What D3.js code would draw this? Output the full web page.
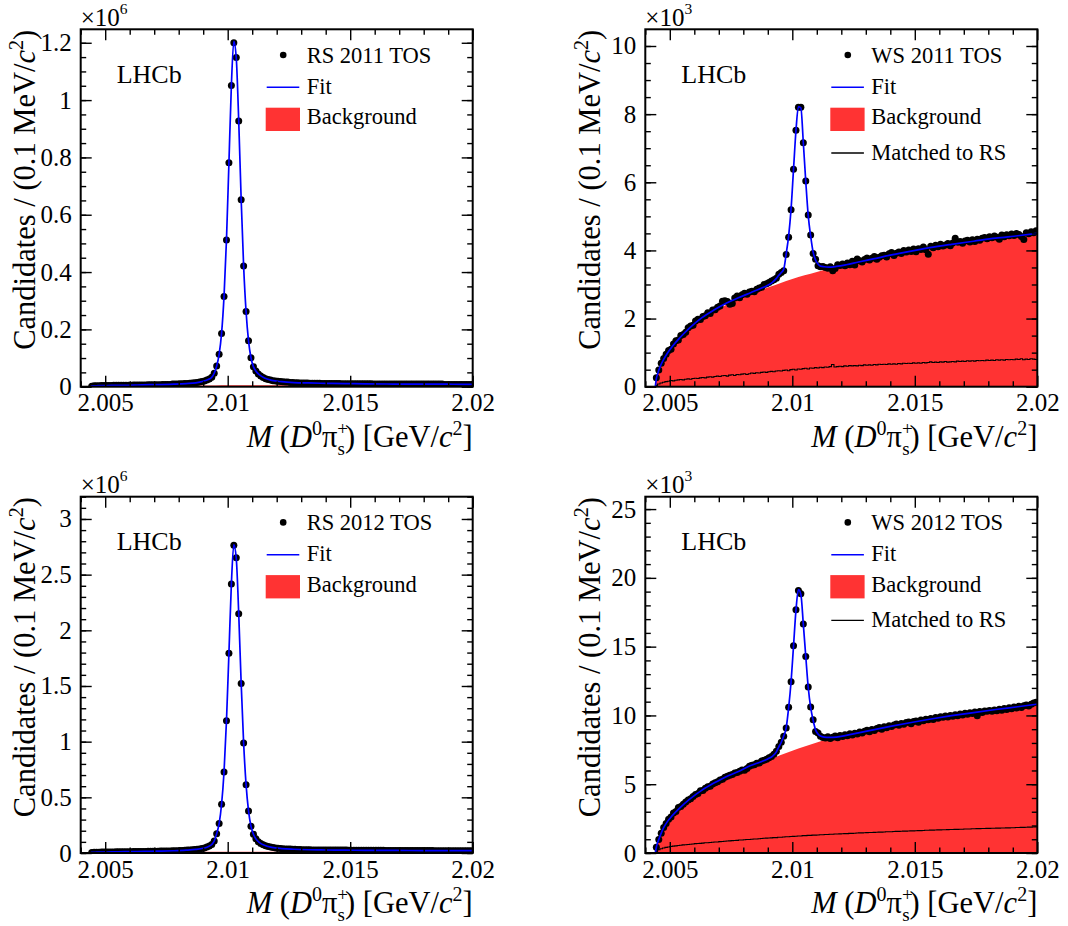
<!DOCTYPE html>
<html><head><meta charset="utf-8">
<script src="https://cdn.jsdelivr.net/npm/d3@7"></script>
<style>
body{margin:0;background:#fff}
svg{display:block}
text{font-family:"Liberation Serif","Times New Roman",serif;fill:#000}
</style>
</head><body>
<svg id="c" width="1068" height="926"></svg>
<script>
// ---- histogram binning (0.1 MeV bins) ----
const binLow = 2.0044, binWidth = 0.0001;
const xDomain = [2.004, 2.02];
const xMajorTicks = [2.005, 2.01, 2.015, 2.02];
const xTickLabels = ["2.005", "2.01", "2.015", "2.02"];

// ---- data points (candidates per bin) ----
const rs2011Data = [
0.002,0.003,0.003,0.003,0.004,0.004,0.004,0.004,0.004,0.005,
0.005,0.005,0.005,0.005,0.005,0.005,0.005,0.006,0.006,0.006,
0.006,0.006,0.006,0.007,0.007,0.007,0.007,0.007,0.007,0.008,
0.008,0.008,0.008,0.009,0.009,0.009,0.010,0.010,0.011,0.011,
0.012,0.013,0.014,0.015,0.016,0.018,0.020,0.023,0.027,0.033,
0.047,0.072,0.113,0.186,0.315,0.512,0.781,1.051,1.200,1.149,
0.927,0.652,0.421,0.262,0.160,0.101,0.070,0.055,0.044,0.037,
0.032,0.028,0.025,0.023,0.021,0.020,0.019,0.018,0.017,0.016,
0.016,0.015,0.015,0.014,0.014,0.013,0.013,0.013,0.013,0.012,
0.012,0.012,0.012,0.012,0.011,0.011,0.011,0.011,0.011,0.011,
0.011,0.011,0.010,0.010,0.010,0.010,0.010,0.010,0.010,0.010,
0.010,0.010,0.010,0.010,0.010,0.009,0.009,0.009,0.009,0.009,
0.009,0.009,0.009,0.009,0.009,0.009,0.009,0.009,0.009,0.009,
0.009,0.009,0.009,0.009,0.009,0.009,0.009,0.009,0.009,0.009,
0.009,0.009,0.009,0.009,0.008,0.008,0.008,0.008,0.008,0.008,
0.008,0.008,0.008,0.008,0.008,0.008];

const rs2012Data = [
0.005,0.006,0.007,0.007,0.008,0.008,0.009,0.009,0.010,0.010,
0.011,0.011,0.011,0.012,0.012,0.012,0.012,0.013,0.013,0.013,
0.014,0.014,0.014,0.015,0.015,0.015,0.016,0.016,0.017,0.017,
0.018,0.018,0.019,0.020,0.020,0.021,0.022,0.023,0.024,0.026,
0.027,0.029,0.031,0.034,0.037,0.041,0.046,0.053,0.062,0.076,
0.108,0.174,0.264,0.438,0.728,1.187,1.795,2.415,2.763,2.652,
2.149,1.522,0.989,0.614,0.378,0.240,0.168,0.127,0.101,0.085,
0.073,0.064,0.058,0.053,0.049,0.046,0.043,0.041,0.039,0.037,
0.036,0.035,0.034,0.033,0.032,0.031,0.030,0.030,0.029,0.029,
0.028,0.028,0.028,0.028,0.028,0.027,0.027,0.027,0.027,0.027,
0.026,0.026,0.026,0.026,0.026,0.025,0.025,0.025,0.025,0.025,
0.024,0.024,0.024,0.024,0.024,0.024,0.024,0.024,0.024,0.024,
0.023,0.023,0.023,0.023,0.023,0.023,0.023,0.023,0.023,0.023,
0.022,0.022,0.022,0.022,0.022,0.022,0.022,0.022,0.022,0.022,
0.021,0.021,0.021,0.021,0.021,0.021,0.021,0.021,0.021,0.021,
0.021,0.021,0.021,0.021,0.021,0.021];

const ws2011Data = [
0.26,0.49,0.69,0.83,0.95,1.06,1.10,1.25,1.35,1.37,
1.50,1.53,1.60,1.73,1.78,1.80,1.93,1.98,1.97,2.06,
2.08,2.17,2.15,2.25,2.26,2.33,2.37,2.51,2.52,2.50,
2.42,2.44,2.60,2.66,2.61,2.70,2.74,2.71,2.78,2.80,
2.79,2.86,2.90,2.92,3.00,3.02,3.06,3.10,3.14,3.18,
3.30,3.35,3.40,3.88,4.39,5.19,6.38,7.53,8.20,8.20,
7.16,6.04,5.04,4.45,3.91,3.74,3.55,3.52,3.53,3.50,
3.48,3.52,3.40,3.47,3.58,3.56,3.60,3.55,3.63,3.58,
3.68,3.57,3.75,3.70,3.66,3.73,3.78,3.72,3.77,3.82,
3.74,3.80,3.84,3.86,3.81,3.90,3.94,3.85,3.92,3.95,
3.91,4.00,3.95,4.01,3.97,4.04,3.96,4.05,4.03,4.10,
4.02,3.89,4.12,4.08,4.15,4.11,4.18,4.13,4.16,4.20,
4.14,4.22,4.36,4.24,4.26,4.21,4.28,4.30,4.25,4.31,
4.26,4.33,4.30,4.36,4.38,4.34,4.40,4.37,4.42,4.39,
4.33,4.45,4.40,4.46,4.43,4.48,4.44,4.50,4.47,4.41,
4.32,4.52,4.49,4.55,4.52,4.58];

const ws2012Data = [
0.42,0.99,1.43,1.86,2.14,2.45,2.62,2.90,3.02,3.30,
3.38,3.55,3.70,3.86,3.95,4.10,4.26,4.33,4.52,4.55,
4.70,4.82,4.86,5.02,5.10,5.18,5.31,5.36,5.50,5.58,
5.66,5.70,5.82,5.86,5.95,6.04,6.02,6.15,6.30,6.38,
6.42,6.53,6.55,6.68,6.74,6.82,6.93,7.02,7.18,7.40,
7.75,8.05,8.48,9.08,10.59,12.45,15.07,17.68,19.09,18.85,
16.64,14.29,12.06,10.61,9.69,8.84,8.72,8.48,8.40,8.36,
8.45,8.33,8.42,8.50,8.38,8.55,8.47,8.60,8.52,8.66,
8.58,8.70,8.65,8.80,8.72,8.85,8.93,8.82,8.98,8.90,
9.05,9.12,8.99,9.18,9.10,9.25,9.20,9.30,9.38,9.28,
9.42,9.35,9.48,9.52,9.40,9.55,9.60,9.50,9.66,9.62,
9.72,9.68,9.78,9.70,9.85,9.80,9.90,9.86,9.95,9.88,
10.00,9.94,10.05,9.98,10.10,10.04,10.15,10.08,10.20,10.14,
10.25,9.98,10.28,10.22,10.32,10.30,10.35,10.30,10.40,10.34,
10.45,10.38,10.50,10.44,10.55,10.48,10.62,10.54,10.66,10.58,
10.70,10.76,10.68,10.82,10.90,10.95];

// ---- "Matched to RS" histograms (WS only) ----
const ws2011Matched = [
0.04,0.08,0.11,0.13,0.15,0.16,0.18,0.17,0.19,0.20,
0.21,0.20,0.22,0.23,0.22,0.24,0.25,0.24,0.26,0.27,
0.26,0.28,0.29,0.28,0.30,0.31,0.30,0.32,0.33,0.31,
0.34,0.35,0.33,0.36,0.35,0.37,0.38,0.36,0.38,0.40,
0.39,0.41,0.40,0.42,0.43,0.42,0.44,0.45,0.44,0.46,
0.47,0.46,0.48,0.49,0.47,0.50,0.51,0.49,0.52,0.51,
0.53,0.54,0.52,0.55,0.54,0.56,0.55,0.57,0.56,0.58,
0.57,0.59,0.65,0.58,0.59,0.60,0.59,0.61,0.60,0.62,
0.61,0.62,0.61,0.63,0.62,0.64,0.63,0.64,0.63,0.65,
0.64,0.66,0.65,0.66,0.65,0.67,0.66,0.67,0.66,0.68,
0.67,0.69,0.68,0.69,0.68,0.70,0.69,0.70,0.69,0.71,
0.70,0.71,0.73,0.71,0.72,0.71,0.73,0.72,0.74,0.72,
0.73,0.74,0.73,0.75,0.74,0.75,0.74,0.76,0.75,0.76,
0.75,0.77,0.76,0.77,0.76,0.78,0.77,0.78,0.77,0.79,
0.78,0.79,0.78,0.80,0.79,0.80,0.79,0.81,0.80,0.82,
0.79,0.81,0.80,0.82,0.81,0.80];

const ws2012Matched = [
0.12,0.24,0.31,0.36,0.41,0.44,0.47,0.50,0.52,0.55,
0.56,0.59,0.60,0.62,0.64,0.65,0.68,0.69,0.70,0.72,
0.74,0.75,0.76,0.78,0.80,0.80,0.83,0.84,0.85,0.87,
0.88,0.90,0.91,0.92,0.94,0.95,0.96,0.98,0.98,1.00,
1.02,1.02,1.04,1.05,1.07,1.08,1.09,1.10,1.12,1.12,
1.14,1.15,1.16,1.18,1.18,1.20,1.21,1.22,1.24,1.24,
1.26,1.26,1.28,1.28,1.30,1.30,1.31,1.33,1.33,1.34,
1.35,1.36,1.36,1.38,1.38,1.39,1.40,1.41,1.41,1.43,
1.43,1.44,1.45,1.46,1.46,1.47,1.48,1.49,1.49,1.50,
1.51,1.52,1.52,1.53,1.54,1.55,1.55,1.56,1.57,1.57,
1.58,1.59,1.59,1.60,1.61,1.61,1.62,1.63,1.63,1.64,
1.65,1.65,1.66,1.66,1.67,1.68,1.68,1.69,1.69,1.70,
1.71,1.71,1.72,1.72,1.73,1.73,1.74,1.75,1.75,1.76,
1.76,1.77,1.77,1.78,1.78,1.79,1.79,1.80,1.80,1.81,
1.81,1.82,1.82,1.83,1.83,1.84,1.84,1.85,1.85,1.86,
1.86,1.87,1.88,1.88,1.89,1.90];

// ---- fit curves (sampled masses, GeV) ----
const fitMass = [2.00441,2.00445,2.0045,2.00455,2.00465,2.00475,2.0049,2.0051,2.0054,2.0058,
2.0063,2.0068,2.0073,2.0078,2.0083,2.0087,2.009,2.0092,2.00935,2.00945,
2.00955,2.00965,2.00975,2.00985,2.00995,2.01005,2.01015,2.01025,2.01035,2.01045,
2.01055,2.01065,2.01075,2.01085,2.01095,2.01105,2.01115,2.0113,2.0115,2.0118,
2.0122,2.0127,2.0133,2.014,2.0148,2.0156,2.0165,2.0174,2.0183,2.0192,2.02];

const rs2011Fit = [0.002,0.002,0.003,0.003,0.003,0.004,0.004,0.004,0.005,0.005,
0.006,0.007,0.0075,0.009,0.011,0.0135,0.019,0.025,0.033,0.047,
0.072,0.113,0.186,0.315,0.512,0.781,1.051,1.205,1.146,0.927,
0.652,0.421,0.262,0.160,0.101,0.070,0.055,0.041,0.030,0.022,
0.0175,0.0145,0.013,0.0118,0.011,0.0102,0.0095,0.009,0.009,0.0085,0.008];

const rs2012Fit = [0.004,0.005,0.006,0.006,0.007,0.007,0.008,0.009,0.010,0.012,
0.013,0.015,0.017,0.020,0.025,0.032,0.043,0.057,0.076,0.108,
0.174,0.264,0.438,0.728,1.187,1.795,2.415,2.770,2.645,2.149,
1.522,0.989,0.614,0.378,0.240,0.168,0.127,0.093,0.069,0.051,
0.040,0.0335,0.029,0.027,0.0255,0.024,0.023,0.0225,0.022,0.021,0.021];

const ws2011Fit = [0,0.24,0.36,0.48,0.66,0.80,0.98,1.18,1.43,1.72,
2.02,2.25,2.45,2.61,2.76,2.88,2.98,3.07,3.18,3.27,
3.35,3.45,3.90,4.42,5.22,6.38,7.52,8.22,8.18,7.16,
6.02,5.02,4.42,3.95,3.72,3.60,3.54,3.52,3.51,3.53,
3.58,3.66,3.75,3.86,3.97,4.08,4.18,4.27,4.36,4.43,4.50];

const ws2012Fit = [0,0.42,0.72,0.98,1.45,1.84,2.28,2.72,3.27,3.90,
4.55,5.08,5.55,5.92,6.36,6.62,6.84,7.05,7.35,7.72,
8.05,8.50,9.10,10.55,12.45,15.05,17.65,19.15,18.80,16.62,
14.28,12.05,10.58,9.65,8.95,8.65,8.50,8.42,8.40,8.43,
8.55,8.73,8.95,9.20,9.47,9.72,9.98,10.21,10.43,10.63,10.82];

// ---- background components (sampled masses, GeV) ----
const bgMass = [2.00441,2.00445,2.0045,2.0046,2.0047,2.0049,2.0052,2.0056,2.006,2.0065,
2.007,2.0075,2.008,2.0085,2.009,2.0095,2.01,2.0105,2.011,2.0115,
2.012,2.013,2.014,2.015,2.016,2.017,2.018,2.019,2.02];

const rs2011Bg = [0,0.001,0.0015,0.002,0.0025,0.003,0.003,0.0035,0.0035,0.004,
0.004,0.004,0.0045,0.0045,0.0045,0.0045,0.005,0.005,0.005,0.005,
0.005,0.005,0.0055,0.0055,0.0055,0.0055,0.006,0.006,0.006];
const rs2012Bg = [0,0.002,0.003,0.004,0.005,0.006,0.007,0.008,0.008,0.009,
0.009,0.010,0.010,0.010,0.011,0.011,0.011,0.012,0.012,0.012,
0.012,0.012,0.013,0.013,0.013,0.013,0.014,0.014,0.014];
const ws2011Bg = [0,0.20,0.33,0.54,0.70,0.94,1.22,1.53,1.80,2.07,
2.28,2.47,2.62,2.77,2.91,3.04,3.16,3.27,3.37,3.46,
3.53,3.68,3.82,3.95,4.07,4.18,4.29,4.38,4.47];
const ws2012Bg = [0,0.38,0.65,1.12,1.50,2.20,2.87,3.52,4.07,4.64,
5.15,5.60,6.00,6.40,6.75,7.10,7.43,7.74,8.03,8.28,
8.45,8.82,9.14,9.43,9.70,9.97,10.22,10.47,10.72];

// ---- y axis ticks ----
const rs2011YTicks = [0,0.2,0.4,0.6,0.8,1,1.2];
const rs2011YLabels = ["0","0.2","0.4","0.6","0.8","1","1.2"];
const ws2011YTicks = [0,2,4,6,8,10];
const ws2011YLabels = ["0","2","4","6","8","10"];
const rs2012YTicks = [0,0.5,1,1.5,2,2.5,3];
const rs2012YLabels = ["0","0.5","1","1.5","2","2.5","3"];
const ws2012YTicks = [0,5,10,15,20,25];
const ws2012YLabels = ["0","5","10","15","20","25"];

const legendNames = ["RS 2011 TOS","WS 2011 TOS","RS 2012 TOS","WS 2012 TOS"];

// ---- layout ----
const panels = [
  {x0:80.7, x1:472.7, y0:29.3, y1:386.7, yMax:1.247, minor:0.05, exp:"6",
   data:rs2011Data, fit:rs2011Fit, bg:rs2011Bg, matched:null,
   ticks:rs2011YTicks, labels:rs2011YLabels, name:legendNames[0]},
  {x0:645.3, x1:1037.3, y0:29.3, y1:386.7, yMax:10.49, minor:0.5, exp:"3",
   data:ws2011Data, fit:ws2011Fit, bg:ws2011Bg, matched:ws2011Matched,
   ticks:ws2011YTicks, labels:ws2011YLabels, name:legendNames[1]},
  {x0:80.7, x1:472.7, y0:496.7, y1:853, yMax:3.20, minor:0.1, exp:"6",
   data:rs2012Data, fit:rs2012Fit, bg:rs2012Bg, matched:null,
   ticks:rs2012YTicks, labels:rs2012YLabels, name:legendNames[2]},
  {x0:645.3, x1:1037.3, y0:496.7, y1:853, yMax:25.9, minor:1, exp:"3",
   data:ws2012Data, fit:ws2012Fit, bg:ws2012Bg, matched:ws2012Matched,
   ticks:ws2012YTicks, labels:ws2012YLabels, name:legendNames[3]}
];

const RED = "#ff3333", BLUE = "#0000ff";
const TICKFONT = 25, TITLEFONT = 30.5;
const svg = d3.select("#c");
const defs = svg.append("defs");

panels.forEach((p, k) => {
  const x = d3.scaleLinear().domain(xDomain).range([p.x0, p.x1]);
  const y = d3.scaleLinear().domain([0, p.yMax]).range([p.y1, p.y0]);
  const g = svg.append("g");
  const cid = "clip" + k;
  defs.append("clipPath").attr("id", cid).append("rect")
    .attr("x", p.x0).attr("y", p.y0).attr("width", p.x1 - p.x0).attr("height", p.y1 - p.y0);
  const plot = g.append("g").attr("clip-path", `url(#${cid})`);

  // background area
  plot.append("path")
    .datum(bgMass.map((m, i) => [m, p.bg[i]]))
    .attr("fill", RED)
    .attr("d", d3.area().x(d => x(d[0])).y0(y(0)).y1(d => y(d[1])).curve(d3.curveMonotoneX));

  // matched-to-RS step histogram
  if (p.matched) {
    const pts = p.matched.map((v, i) => [binLow + i * binWidth, v]);
    pts.push([binLow + p.matched.length * binWidth, p.matched[p.matched.length - 1]]);
    plot.append("path").datum(pts)
      .attr("fill", "none").attr("stroke", "#000").attr("stroke-width", 1.1)
      .attr("d", d3.line().x(d => x(d[0])).y(d => y(d[1])).curve(d3.curveStepAfter));
  }

  // data points
  plot.append("g").selectAll("circle").data(p.data).join("circle")
    .attr("cx", (d, i) => x(binLow + (i + 0.5) * binWidth))
    .attr("cy", d => y(d))
    .attr("r", 3.5).attr("fill", "#000");

  // fit
  plot.append("path")
    .datum(fitMass.map((m, i) => [m, p.fit[i]]))
    .attr("fill", "none").attr("stroke", BLUE).attr("stroke-width", 1.7)
    .attr("d", d3.line().x(d => x(d[0])).y(d => y(d[1])).curve(d3.curveMonotoneX));

  // axes (ticks pointing inward)
  const xMinor = d3.range(0, 17).map(j => 2.004 + j * 0.001).filter(v => !xMajorTicks.some(t => Math.abs(t - v) < 1e-7));
  const yMinor = d3.range(0, Math.floor(p.yMax / p.minor + 1e-6) + 1).map(j => j * p.minor);

  const axStyle = sel => { sel.select(".domain").remove(); sel.selectAll("line").attr("stroke", "#000").attr("stroke-width", 1.4); };

  g.append("g").attr("transform", `translate(0,${p.y1})`)
    .call(d3.axisBottom(x).tickValues(xMajorTicks).tickFormat((d, i) => xTickLabels[i]).tickSize(-11).tickPadding(7))
    .call(axStyle)
    .call(s => s.selectAll("text").attr("font-size", TICKFONT).attr("font-family", "Liberation Serif"));
  g.append("g").attr("transform", `translate(0,${p.y1})`)
    .call(d3.axisBottom(x).tickValues(xMinor).tickFormat("").tickSize(-5.5)).call(axStyle);
  g.append("g").attr("transform", `translate(0,${p.y0})`)
    .call(d3.axisTop(x).tickValues(xMajorTicks).tickFormat("").tickSize(-11)).call(axStyle);
  g.append("g").attr("transform", `translate(0,${p.y0})`)
    .call(d3.axisTop(x).tickValues(xMinor).tickFormat("").tickSize(-5.5)).call(axStyle);

  g.append("g").attr("transform", `translate(${p.x0},0)`)
    .call(d3.axisLeft(y).tickValues(p.ticks).tickFormat((d, i) => p.labels[i]).tickSize(-11).tickPadding(9))
    .call(axStyle)
    .call(s => s.selectAll("text").attr("font-size", TICKFONT).attr("font-family", "Liberation Serif"));
  g.append("g").attr("transform", `translate(${p.x0},0)`)
    .call(d3.axisLeft(y).tickValues(yMinor).tickFormat("").tickSize(-5.5)).call(axStyle);
  g.append("g").attr("transform", `translate(${p.x1},0)`)
    .call(d3.axisRight(y).tickValues(p.ticks).tickFormat("").tickSize(-11)).call(axStyle);
  g.append("g").attr("transform", `translate(${p.x1},0)`)
    .call(d3.axisRight(y).tickValues(yMinor).tickFormat("").tickSize(-5.5)).call(axStyle);

  // frame
  g.append("rect").attr("x", p.x0).attr("y", p.y0).attr("width", p.x1 - p.x0).attr("height", p.y1 - p.y0)
    .attr("fill", "none").attr("stroke", "#000").attr("stroke-width", 2);

  // exponent
  const e = g.append("text").attr("x", p.x0).attr("y", p.y0 - 3.8).attr("font-size", 25);
  e.append("tspan").text("×10");
  e.append("tspan").attr("font-size", 15.5).attr("dy", -12).text(p.exp);

  // y title
  const yt = g.append("text").attr("transform", `translate(${p.x0 - 45.5},${p.y0 + 0.5}) rotate(-90)`)
    .attr("text-anchor", "end").attr("font-size", TITLEFONT);
  yt.append("tspan").text("Candidates / (0.1 MeV/");
  yt.append("tspan").attr("font-style", "italic").text("c");
  yt.append("tspan").attr("font-size", 20).attr("dy", -12).text("2");
  yt.append("tspan").attr("dy", 12).text(")");

  // x title
  const xt = g.append("text").attr("x", p.x1).attr("y", p.y1 + 60).attr("text-anchor", "end").attr("font-size", TITLEFONT);
  xt.append("tspan").attr("font-style", "italic").text("M");
  xt.append("tspan").text(" (");
  xt.append("tspan").attr("font-style", "italic").text("D");
  xt.append("tspan").attr("font-size", 20).attr("dy", -12).text("0");
  xt.append("tspan").attr("dy", 12).text("π");
  xt.append("tspan").attr("font-size", 19).attr("dy", -12).text("+");
  xt.append("tspan").attr("font-size", 19).attr("dx", -10.5).attr("dy", 20).text("s");
  xt.append("tspan").attr("dy", -8).text(") [GeV/");
  xt.append("tspan").attr("font-style", "italic").text("c");
  xt.append("tspan").attr("font-size", 20).attr("dy", -12).text("2");
  xt.append("tspan").attr("dy", 12).text("]");

  // LHCb label
  g.append("text").attr("x", p.x0 + 36).attr("y", p.y0 + 53.5).attr("font-size", 26).text("LHCb");

  // legend
  const lx = p.x0, ly = p.y0;
  g.append("circle").attr("cx", lx + 202.5).attr("cy", ly + 25.7).attr("r", 3.3).attr("fill", "#000");
  g.append("text").attr("x", lx + 226).attr("y", ly + 33.4).attr("font-size", 22.5).text(p.name);
  g.append("line").attr("x1", lx + 186).attr("x2", lx + 218.6).attr("y1", ly + 58).attr("y2", ly + 58)
    .attr("stroke", BLUE).attr("stroke-width", 1.6);
  g.append("text").attr("x", lx + 226).attr("y", ly + 64.7).attr("font-size", 22.5).text("Fit");
  g.append("rect").attr("x", lx + 185).attr("y", ly + 78.4).attr("width", 34.3).attr("height", 23.3).attr("fill", RED);
  g.append("text").attr("x", lx + 226).attr("y", ly + 95).attr("font-size", 22.5).text("Background");
  if (p.matched) {
    g.append("line").attr("x1", lx + 186).attr("x2", lx + 218.6).attr("y1", ly + 123.7).attr("y2", ly + 123.7)
      .attr("stroke", "#000").attr("stroke-width", 1.3);
    g.append("text").attr("x", lx + 226).attr("y", ly + 130.7).attr("font-size", 22.5).text("Matched to RS");
  }
});
</script>
</body></html>
